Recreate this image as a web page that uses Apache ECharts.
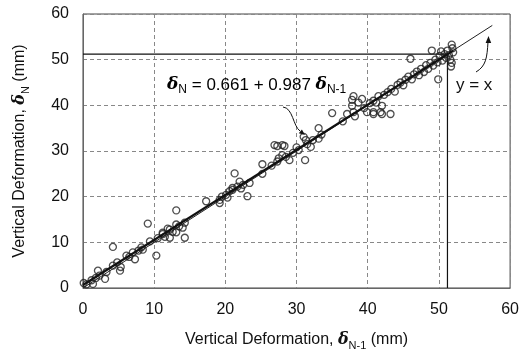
<!DOCTYPE html>
<html><head><meta charset="utf-8">
<script src="https://cdn.jsdelivr.net/npm/echarts@6/dist/echarts.min.js"></script>
<style>html,body{margin:0;padding:0;background:#fff}#c{width:522px;height:356px}</style>
</head><body><div id="c"></div>
<script>
// Measured points: x = delta(N-1), y = delta(N)
const xVals = [0.1,0.5,1.2,1.4,1.8,2.1,2.3,3.1,3.3,4.2,4.2,4.8,5.2,5.3,6.1,6.5,7.0,7.3,7.8,8.2,8.4,9.1,9.4,10.3,10.5,11.2,11.2,11.5,11.9,12.2,12.2,12.6,13.1,13.1,13.1,13.5,14.3,14.3,14.0,
  17.3,19.2,19.2,19.5,20.1,20.3,20.6,21.0,21.0,21.3,21.7,22.0,22.2,22.5,23.1,23.4,25.2,25.2,26.5,27.3,27.3,27.5,28.0,28.3,28.5,29.0,29.5,30.0,30.3,31.0,31.3,31.2,31.5,32.0,32.3,33.1,33.1,33.5,
  35.0,36.5,37.1,37.8,38.0,38.2,38.7,39.2,39.5,39.9,40.3,40.8,40.8,41.2,41.8,41.5,42.0,42.0,42.3,42.8,43.2,43.3,43.8,44.2,44.6,45.0,45.3,45.7,46.0,46.2,46.5,46.9,47.2,47.5,47.9,48.2,48.5,48.8,
  49.0,49.2,49.5,49.9,49.8,50.1,50.3,50.5,50.8,51.0,51.2,51.4,51.6,51.8,51.8,51.9,52.0,51.7,38.0,37.8,40.8,26.9,28.0];
const yVals = [1.1,0.8,1.7,0.9,2.2,3.8,2.7,2.0,3.5,9.0,4.9,5.6,3.8,4.6,7.1,6.8,7.8,6.3,8.2,8.9,8.4,14.1,10.2,7.1,10.9,11.8,12.1,11.2,13.0,12.8,11.0,12.3,17.0,13.9,12.2,13.5,14.3,11.0,13.2,
  19.0,19.3,18.6,20.0,20.4,19.8,21.2,21.5,21.9,25.1,22.2,23.3,21.8,22.6,20.1,23.0,27.1,25.0,26.8,31.1,27.7,28.4,29.1,31.1,28.7,28.0,29.6,30.8,30.2,33.1,32.4,28.0,31.5,30.9,32.4,35.0,32.7,33.6,
  38.3,36.5,38.1,39.9,38.5,37.6,40.6,41.4,39.4,38.5,40.5,38.5,41.0,40.6,38.5,42.0,39.9,38.1,42.3,42.9,38.1,43.6,43.0,44.5,45.0,44.4,45.6,46.3,50.2,45.7,46.8,47.4,46.6,48.0,47.3,48.8,48.0,49.3,
  52.0,48.7,50.0,45.7,49.4,50.8,51.8,49.8,51.2,50.4,52.0,51.0,50.0,53.3,49.3,52.5,51.6,48.5,42.0,41.2,38.1,31.3,31.3];
const identityLine = [[0,0],[57.5,57.5]];
const regressionLine = [[0,0.661],[52,51.985]];
const limitH = [[0,51.2],[51.2,51.2]];
const limitV = [[51.2,0],[51.2,51.2]];
const axisTicks = [0,10,20,30,40,50,60];

const pts = xVals.map((x,i)=>[x,yVals[i]]);
const FONT = 'Liberation Sans, Arial, sans-serif';
function mkRich(fs, ss){
  return {
    n:{fontSize:fs,fontFamily:FONT,color:'#111',lineHeight:22,verticalAlign:'middle'},
    d:{fontSize:fs,fontFamily:'DejaVu Serif, serif',fontWeight:'bold',fontStyle:'italic',color:'#111',lineHeight:22,verticalAlign:'middle'},
    s:{fontSize:ss,fontFamily:FONT,color:'#111',lineHeight:12,verticalAlign:'bottom'}
  };
}
const rich = mkRich(16,11);
const richAnn = mkRich(17,12);
const chart = echarts.init(document.getElementById('c'));
chart.setOption({
  animation:false,
  backgroundColor:'#fff',
  grid:{left:83,right:10,top:14,bottom:65,show:true,borderColor:'#444',borderWidth:1,backgroundColor:'transparent'},
  xAxis:{type:'value',min:0,max:60,interval:10,
    name:'{n|Vertical Deformation, }{d|δ}{s|N-1}{n| (mm)}',nameLocation:'middle',nameGap:41,
    nameTextStyle:{rich:rich},
    axisLine:{lineStyle:{color:'#666',width:1}},axisTick:{show:false},
    axisLabel:{fontSize:16,fontFamily:FONT,color:'#111',margin:14,formatter:v=>axisTicks.includes(v)?String(v):''},
    splitLine:{lineStyle:{color:'#888',type:[4,3],width:1}}},
  yAxis:{type:'value',min:0,max:60,interval:10,
    name:'{n|Vertical Deformation, }{d|δ}{s|N}{n| (mm)}',nameLocation:'middle',nameGap:52,nameRotate:90,
    nameTextStyle:{rich:rich},
    axisLine:{lineStyle:{color:'#666',width:1}},axisTick:{show:false},
    axisLabel:{fontSize:16,fontFamily:FONT,color:'#111',margin:14,formatter:v=>axisTicks.includes(v)?String(v):''},
    splitLine:{lineStyle:{color:'#888',type:[4,3],width:1}}},
  series:[
    {type:'line',data:limitH,symbol:'none',lineStyle:{color:'#111',width:1.2},z:3},
    {type:'line',data:limitV,symbol:'none',lineStyle:{color:'#111',width:1.2},z:3},
    {type:'scatter',data:pts,symbol:'circle',symbolSize:7,
      itemStyle:{color:'rgba(255,255,255,0)',borderColor:'#222',borderWidth:1.3},z:4},
    {type:'line',data:identityLine,symbol:'none',lineStyle:{color:'#222',width:1},z:5},
    {type:'line',data:regressionLine,symbol:'none',lineStyle:{color:'#111',width:2.2},z:5}
  ],
  graphic:[
    {type:'text',x:167,y:85,z:10,style:{
      text:'{d|δ}{s|N}{n| = 0.661 + 0.987 }{d|δ}{s|N-1}',rich:richAnn,verticalAlign:'middle',align:'left'}},
    {type:'text',x:456,y:85,z:10,style:{text:'y = x',font:'17px '+FONT,fill:'#111',verticalAlign:'middle'}},
    {type:'bezierCurve',z:10,shape:{x1:283,y1:107,cpx1:293,cpy1:108,cpx2:293,cpy2:126,x2:300,y2:131},style:{stroke:'#111',lineWidth:1,fill:null}},
    {type:'polygon',z:10,shape:{points:[[305,135],[298.8,133.2],[301.9,129.4]]},style:{fill:'#111'}},
    {type:'bezierCurve',z:10,shape:{x1:476,y1:72,cpx1:486,cpy1:66,cpx2:487,cpy2:58,x2:488,y2:42},style:{stroke:'#111',lineWidth:1,fill:null}},
    {type:'polygon',z:10,shape:{points:[[488.5,36],[485.6,43],[491.2,43]]},style:{fill:'#111'}}
  ]
});
</script></body></html>
